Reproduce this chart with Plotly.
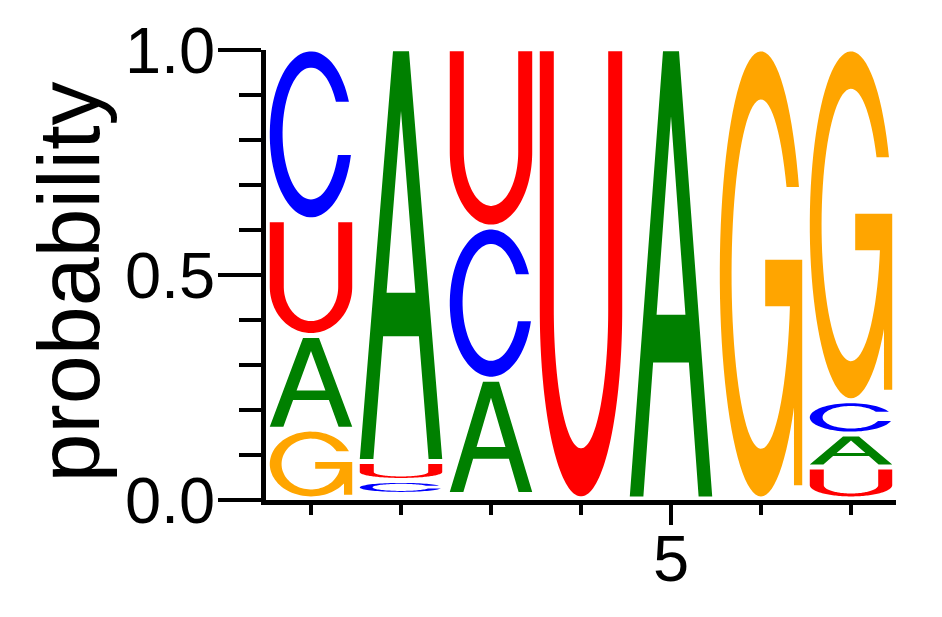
import numpy as np
import plotly.graph_objects as go

# ---------------- data ----------------
positions = [1, 2, 3, 4, 5, 6, 7]
prob_A = [0.208, 0.917, 0.256, 0.0, 1.0, 0.0, 0.073]
prob_C = [0.380, 0.031, 0.338, 0.0, 0.0, 0.0, 0.074]
prob_G = [0.155, 0.010, 0.010, 0.0, 0.0, 1.0, 0.782]
prob_U = [0.257, 0.042, 0.396, 1.0, 0.0, 0.0, 0.071]
letter_colors = {"A": "#008000", "C": "#0000ff", "G": "#ffa500", "U": "#ff0000"}
y_tick_vals = [0.0, 0.5, 1.0]
y_tick_text = ["0.0", "0.5", "1.0"]
x_tick_vals = [5]
x_tick_text = ["5"]
y_title = "probability"

# ---------------- glyph outlines (unit box) ----------------
def arc(cx, cy, rx, ry, a0, a1, n=80):
    t = np.radians(np.linspace(a0, a1, n))
    return list(zip(cx + rx * np.cos(t), cy + ry * np.sin(t)))


def glyph_A():
    outer = [(0, 0), (0.403, 1), (0.597, 1), (1, 0), (0.835, 0),
             (0.717, 0.301), (0.283, 0.301), (0.165, 0)]
    hole = [(0.325, 0.408), (0.5, 0.854), (0.675, 0.408)]
    return [outer, hole]


def glyph_C():
    yu, yl = 0.696, 0.376
    icx, icy, irx, iry = 0.5, 0.505, 0.345, 0.397
    tu = np.degrees(np.arcsin((yu - 0.5) / 0.5))
    tl = np.degrees(np.arcsin((yl - 0.5) / 0.5))
    pu = np.degrees(np.arcsin((yu - icy) / iry))
    pl = np.degrees(np.arcsin((yl - icy) / iry))
    ring = arc(0.5, 0.5, 0.5, 0.5, tu, 360 + tl) + arc(icx, icy, irx, iry, 360 + pl, pu)
    return [ring]


def glyph_G():
    yu = 0.695
    icx, icy, irx, iry = 0.5, 0.4995, 0.357, 0.3925
    tu = np.degrees(np.arcsin((yu - 0.5) / 0.5))
    stem_l, bar_top, bar_bot, bar_l, spur_b = 0.9, 0.532, 0.427, 0.551, 0.025
    te = 360 - np.degrees(np.arccos((stem_l - 0.5) / 0.5))
    pu = np.degrees(np.arcsin((yu - icy) / iry))
    pb = 360 + np.degrees(np.arcsin((bar_bot - icy) / iry))
    pts = arc(0.5, 0.5, 0.5, 0.5, tu, te)
    ye = pts[-1][1]
    pts += [(stem_l, ye), (stem_l, spur_b), (1.0, spur_b), (1.0, bar_top),
            (bar_l, bar_top), (bar_l, bar_bot)]
    pts += arc(icx, icy, irx, iry, pb, pu)
    return [pts]


def glyph_U():
    cy = 0.42
    pts = [(0, 1), (0, cy)]
    pts += arc(0.5, cy, 0.5, cy, 180, 360)
    pts += [(1, 1), (0.83, 1), (0.83, cy)]
    pts += arc(0.5, cy, 0.33, cy - 0.108, 360, 180)
    pts += [(0.17, cy), (0.17, 1)]
    return [pts]


GLYPHS = {"A": glyph_A(), "C": glyph_C(), "G": glyph_G(), "U": glyph_U()}


def glyph_path(letter, x0, x1, y0, y1):
    parts = []
    for ring in GLYPHS[letter]:
        coords = [(x0 + (x1 - x0) * px, y0 + (y1 - y0) * py) for px, py in ring]
        s = "M " + " L ".join(f"{x:.5f},{y:.5f}" for x, y in coords) + " Z"
        parts.append(s)
    return " ".join(parts)


# ---------------- build figure ----------------
fig = go.Figure()
fig.add_trace(go.Scatter(x=[], y=[], mode="markers", showlegend=False))

half_w = 0.458
gap_bottom, gap_top = 0.008, 0.003
shapes = []
for i, pos in enumerate(positions):
    probs = {"A": prob_A[i], "C": prob_C[i], "G": prob_G[i], "U": prob_U[i]}
    order = sorted([k for k in probs if probs[k] > 0], key=lambda k: probs[k])
    base = 0.0
    for letter in order:
        p = probs[letter]
        gy0, gy1 = base + gap_bottom, base + p - gap_top
        if gy1 - gy0 > 0.002:
            shapes.append(dict(
                type="path", xref="x", yref="y",
                path=glyph_path(letter, pos - half_w, pos + half_w, gy0, gy1),
                fillcolor=letter_colors[letter], line=dict(width=0),
                fillrule="evenodd", layer="above"))
        base += p

# page body has an 8px default margin, so the figure is offset by (8, 8)
W, H = 934, 609
ML, MT, PW, PH = 258, 42, 630, 450

fig.update_layout(
    width=W, height=H, autosize=False,
    margin=dict(l=ML, r=W - ML - PW, t=MT, b=H - MT - PH, autoexpand=False),
    paper_bgcolor="white", plot_bgcolor="white",
    font=dict(family="Liberation Sans, Arial, sans-serif", color="black"),
    showlegend=False,
    shapes=shapes,
    xaxis=dict(
        range=[0.5, 7.5], showgrid=False, zeroline=False, automargin=False,
        showline=True, linewidth=4.5, linecolor="black",
        tickmode="array", tickvals=x_tick_vals, ticktext=x_tick_text,
        ticks="outside", ticklen=20, tickwidth=4, tickcolor="black",
        tickfont=dict(size=65), ticklabelstandoff=-22,
        minor=dict(tickmode="array", tickvals=positions, ticks="outside",
                   ticklen=10, tickwidth=4, tickcolor="black", showgrid=False),
    ),
    yaxis=dict(
        range=[0, 1], showgrid=False, zeroline=False, automargin=False,
        showline=True, linewidth=4.5, linecolor="black",
        tickmode="array", tickvals=y_tick_vals, ticktext=y_tick_text,
        ticks="outside", ticklen=43, tickwidth=4, tickcolor="black",
        tickfont=dict(size=65), ticklabelstandoff=-10,
        minor=dict(tickmode="linear", tick0=0, dtick=0.1, ticks="outside",
                   ticklen=22, tickwidth=4, tickcolor="black", showgrid=False),
    ),
    annotations=[dict(
        text=y_title, textangle=-90, showarrow=False,
        xref="paper", yref="paper", x=(60 - ML) / PW, y=(MT + PH - 274.5) / PH,
        xanchor="center", yanchor="middle",
        font=dict(size=88, family="Liberation Sans, Arial, sans-serif", color="black"),
    )],
)

fig.write_html("out.html")
